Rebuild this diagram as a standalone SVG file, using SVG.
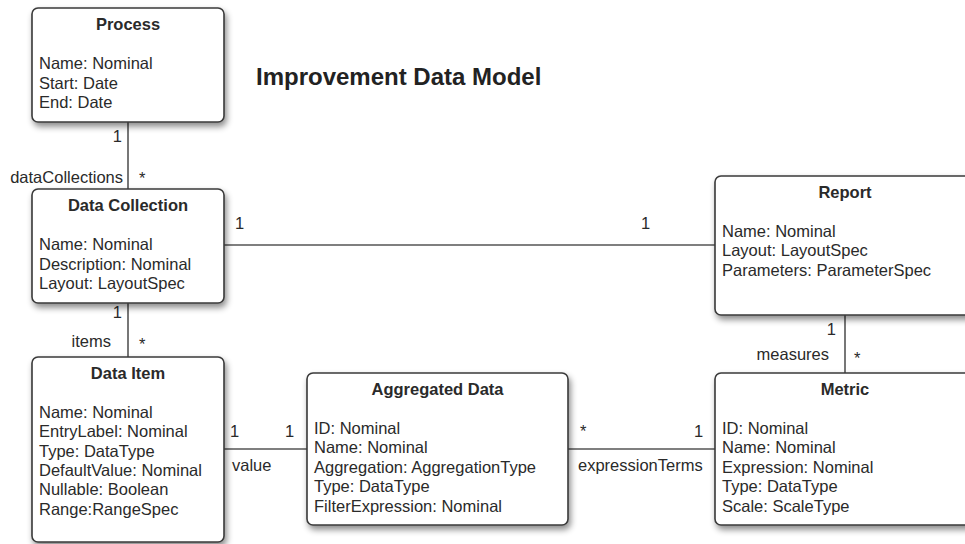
<svg xmlns="http://www.w3.org/2000/svg" width="965" height="544" viewBox="0 0 965 544">
<style>
text{font-family:"Liberation Sans",Arial,sans-serif;font-size:16.5px;fill:#2a2a2a}
.t{font-weight:bold;text-anchor:middle}
.h{font-weight:bold;font-size:24px;fill:#222}
.box{fill:#fff;stroke:#3a3a3a;stroke-width:1.6;filter:url(#sh)}
.c{stroke:#555;stroke-width:1.6;fill:none}
.e{text-anchor:end}
</style>
<defs>
<filter id="sh" x="-10%" y="-10%" width="125%" height="130%">
<feDropShadow dx="2" dy="4" stdDeviation="3" flood-color="#000" flood-opacity="0.45"/>
</filter>
</defs>
<g id="connectors">
<line class="c" x1="128" y1="122" x2="128" y2="189"/>
<line class="c" x1="128" y1="303" x2="128" y2="357"/>
<line class="c" x1="224" y1="245" x2="715" y2="245"/>
<line class="c" x1="845" y1="315" x2="845" y2="373"/>
<line class="c" x1="224" y1="449" x2="307" y2="449"/>
<line class="c" x1="568" y1="449" x2="715" y2="449"/>
<text class="e" x="122" y="142">1</text>
<text class="e" x="123" y="183">dataCollections</text>
<text x="139" y="184">*</text>
<text class="e" x="122" y="318">1</text>
<text class="e" x="111" y="347">items</text>
<text x="139" y="350">*</text>
<text x="235" y="229">1</text>
<text x="641" y="229">1</text>
<text x="230" y="437">1</text>
<text x="285" y="437">1</text>
<text x="232" y="471">value</text>
<text x="580" y="437">*</text>
<text x="694" y="437">1</text>
<text x="578" y="471">expressionTerms</text>
<text class="e" x="836" y="335">1</text>
<text class="e" x="829" y="360">measures</text>
<text x="854" y="364">*</text>
</g>
<text class="h" x="256" y="85">Improvement Data Model</text>
<g id="process">
<rect class="box" x="32" y="8" width="192" height="114" rx="6"/>
<text class="t" x="128" y="30">Process</text>
<text x="39" y="69">Name: Nominal</text>
<text x="39" y="88.5">Start: Date</text>
<text x="39" y="108">End: Date</text>
</g>
<g id="data-collection">
<rect class="box" x="32" y="189" width="192" height="114" rx="6"/>
<text class="t" x="128" y="211">Data Collection</text>
<text x="39" y="250">Name: Nominal</text>
<text x="39" y="269.5">Description: Nominal</text>
<text x="39" y="289">Layout: LayoutSpec</text>
</g>
<g id="data-item">
<rect class="box" x="32" y="357" width="192" height="185" rx="6"/>
<text class="t" x="128" y="379">Data Item</text>
<text x="39" y="418">Name: Nominal</text>
<text x="39" y="437.3">EntryLabel: Nominal</text>
<text x="39" y="456.6">Type: DataType</text>
<text x="39" y="475.9">DefaultValue: Nominal</text>
<text x="39" y="495.2">Nullable: Boolean</text>
<text x="39" y="514.5">Range:RangeSpec</text>
</g>
<g id="aggregated-data">
<rect class="box" x="307" y="373" width="261" height="152" rx="6"/>
<text class="t" x="437.5" y="395">Aggregated Data</text>
<text x="314" y="434">ID: Nominal</text>
<text x="314" y="453.4">Name: Nominal</text>
<text x="314" y="472.8">Aggregation: AggregationType</text>
<text x="314" y="492.2">Type: DataType</text>
<text x="314" y="511.6">FilterExpression: Nominal</text>
</g>
<g id="metric">
<rect class="box" x="715" y="373" width="260" height="152" rx="6"/>
<text class="t" x="845" y="395">Metric</text>
<text x="722" y="434">ID: Nominal</text>
<text x="722" y="453.4">Name: Nominal</text>
<text x="722" y="472.8">Expression: Nominal</text>
<text x="722" y="492.2">Type: DataType</text>
<text x="722" y="511.6">Scale: ScaleType</text>
</g>
<g id="report">
<rect class="box" x="715" y="176" width="260" height="139" rx="6"/>
<text class="t" x="845" y="198">Report</text>
<text x="722" y="237">Name: Nominal</text>
<text x="722" y="256.4">Layout: LayoutSpec</text>
<text x="722" y="275.8">Parameters: ParameterSpec</text>
</g>
</svg>
